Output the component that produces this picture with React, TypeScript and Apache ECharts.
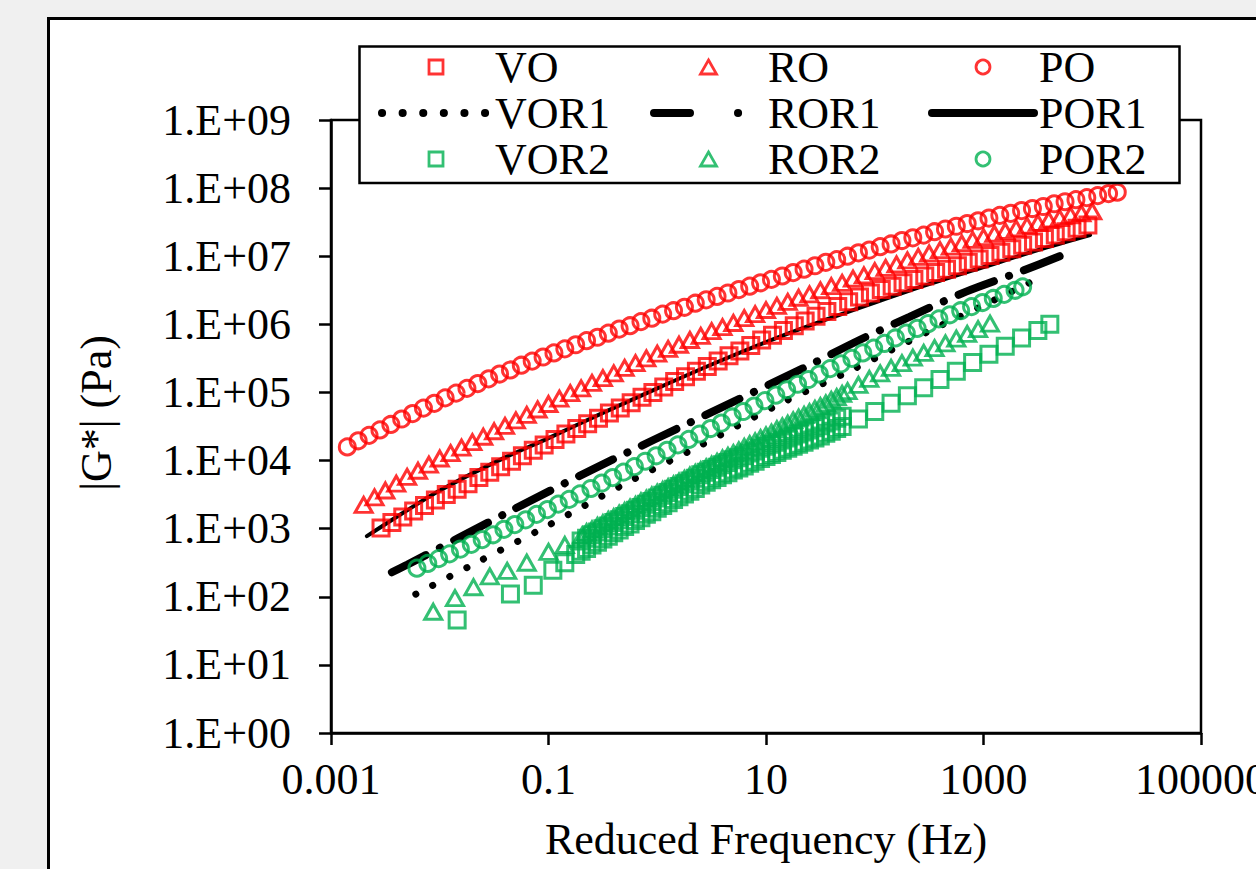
import React, { useEffect, useRef } from "react";
import * as echarts from "echarts";

// All pairs: [log10 reduced frequency (Hz), log10 |G*| (Pa)]
const X_TICK_LABELS: Record<string, string> = { "-3": "0.001", "-1": "0.1", "1": "10", "3": "1000", "5": "100000" };
const Y_TICK_LABELS = ["1.E+00", "1.E+01", "1.E+02", "1.E+03", "1.E+04", "1.E+05", "1.E+06", "1.E+07", "1.E+08", "1.E+09"];
const LEGEND_COLUMNS = [["VO", "VOR1", "VOR2"], ["RO", "ROR1", "ROR2"], ["PO", "POR1", "POR2"]];
const LINE_NAMES = ["VOR1", "ROR1", "POR1"];

const VO = [[-2.54,3.01],[-2.44,3.09],[-2.34,3.17],[-2.24,3.26],[-2.14,3.34],[-2.04,3.42],[-1.94,3.50],[-1.84,3.58],[-1.74,3.66],[-1.64,3.75],[-1.54,3.83],[-1.44,3.91],[-1.34,3.99],[-1.24,4.07],[-1.14,4.15],[-1.04,4.23],[-0.94,4.31],[-0.84,4.39],[-0.74,4.47],[-0.64,4.54],[-0.54,4.62],[-0.44,4.70],[-0.34,4.77],[-0.24,4.85],[-0.14,4.93],[-0.04,5.00],[0.06,5.08],[0.16,5.16],[0.26,5.23],[0.36,5.31],[0.46,5.38],[0.56,5.46],[0.66,5.54],[0.76,5.61],[0.86,5.69],[0.96,5.77],[1.06,5.84],[1.16,5.91],[1.26,5.98],[1.36,6.05],[1.46,6.12],[1.56,6.19],[1.66,6.26],[1.76,6.33],[1.86,6.40],[1.96,6.46],[2.06,6.51],[2.16,6.56],[2.26,6.61],[2.36,6.66],[2.46,6.71],[2.56,6.76],[2.66,6.81],[2.76,6.86],[2.86,6.91],[2.96,6.96],[3.06,7.01],[3.16,7.06],[3.26,7.11],[3.36,7.16],[3.46,7.21],[3.56,7.26],[3.66,7.31],[3.76,7.36],[3.86,7.41],[3.96,7.46]];

const RO = [[-2.70,3.35],[-2.60,3.46],[-2.50,3.56],[-2.40,3.66],[-2.30,3.76],[-2.20,3.85],[-2.10,3.94],[-2.00,4.03],[-1.90,4.11],[-1.80,4.19],[-1.70,4.27],[-1.60,4.35],[-1.50,4.43],[-1.40,4.51],[-1.30,4.59],[-1.20,4.67],[-1.10,4.75],[-1.00,4.83],[-0.90,4.91],[-0.80,4.99],[-0.70,5.06],[-0.60,5.14],[-0.50,5.21],[-0.40,5.28],[-0.30,5.36],[-0.20,5.43],[-0.10,5.50],[0.00,5.57],[0.10,5.64],[0.20,5.70],[0.30,5.77],[0.40,5.83],[0.50,5.90],[0.60,5.96],[0.70,6.02],[0.80,6.09],[0.90,6.15],[1.00,6.21],[1.10,6.27],[1.20,6.33],[1.30,6.39],[1.40,6.44],[1.50,6.50],[1.60,6.56],[1.70,6.61],[1.80,6.67],[1.90,6.72],[2.00,6.78],[2.10,6.83],[2.20,6.88],[2.30,6.94],[2.40,6.99],[2.50,7.04],[2.60,7.09],[2.70,7.14],[2.80,7.19],[2.90,7.24],[3.00,7.28],[3.10,7.33],[3.20,7.37],[3.30,7.41],[3.40,7.45],[3.50,7.49],[3.60,7.53],[3.70,7.56],[3.80,7.60],[3.90,7.63],[4.00,7.66]];

const PO = [[-2.85,4.20],[-2.75,4.29],[-2.65,4.37],[-2.55,4.45],[-2.45,4.53],[-2.35,4.61],[-2.25,4.69],[-2.15,4.77],[-2.05,4.84],[-1.95,4.92],[-1.85,4.99],[-1.75,5.06],[-1.65,5.13],[-1.55,5.20],[-1.45,5.27],[-1.35,5.33],[-1.25,5.40],[-1.15,5.46],[-1.05,5.52],[-0.95,5.58],[-0.85,5.64],[-0.75,5.70],[-0.65,5.76],[-0.55,5.81],[-0.45,5.87],[-0.35,5.93],[-0.25,5.98],[-0.15,6.04],[-0.05,6.09],[0.05,6.15],[0.15,6.20],[0.25,6.25],[0.35,6.31],[0.45,6.36],[0.55,6.41],[0.65,6.46],[0.75,6.51],[0.85,6.56],[0.95,6.61],[1.05,6.66],[1.15,6.71],[1.25,6.76],[1.35,6.81],[1.45,6.86],[1.55,6.91],[1.65,6.95],[1.75,7.00],[1.85,7.05],[1.95,7.09],[2.05,7.14],[2.15,7.18],[2.25,7.23],[2.35,7.27],[2.45,7.31],[2.55,7.36],[2.65,7.40],[2.75,7.44],[2.85,7.48],[2.95,7.52],[3.05,7.56],[3.15,7.60],[3.25,7.63],[3.35,7.67],[3.45,7.70],[3.55,7.73],[3.65,7.77],[3.75,7.80],[3.85,7.83],[3.95,7.86],[4.05,7.89],[4.15,7.92],[4.23,7.94]];

const VOR1 = [[-2.22,2.04],[-1.70,2.47],[-1.00,3.05],[-0.32,3.64],[0.37,4.20],[1.15,4.85],[1.75,5.30],[2.50,5.90],[3.00,6.28],[3.55,6.71]];
const ROR1 = [[-2.44,2.36],[-2.30,2.47],[-1.35,3.26],[-0.57,3.89],[0.50,4.71],[1.36,5.37],[1.86,5.77],[2.32,6.11],[2.84,6.48],[3.35,6.78],[3.73,7.02]];
const POR1 = [[-2.67,2.89],[-2.30,3.27],[-2.00,3.56],[-1.50,3.97],[-1.00,4.33],[-0.50,4.70],[0.00,5.06],[0.50,5.41],[1.00,5.74],[1.50,6.04],[2.00,6.32],[2.50,6.59],[3.00,6.84],[3.50,7.09],[3.98,7.31]];

const VOR2 = [
  [-1.84,1.66],[-1.35,2.04],[-1.14,2.17],[-0.96,2.39],[-0.85,2.50],[-0.75,2.62],
  [-0.70,2.67],[-0.65,2.71],[-0.60,2.76],[-0.55,2.80],[-0.50,2.85],[-0.45,2.89],[-0.40,2.94],[-0.35,2.98],[-0.30,3.03],[-0.25,3.07],[-0.20,3.12],[-0.15,3.16],[-0.10,3.21],[-0.05,3.25],[0.00,3.30],[0.05,3.34],[0.10,3.38],[0.15,3.43],[0.20,3.47],[0.25,3.51],[0.30,3.55],[0.35,3.59],[0.40,3.64],[0.45,3.68],[0.50,3.72],[0.55,3.75],[0.60,3.79],[0.65,3.82],[0.70,3.86],[0.75,3.89],[0.80,3.92],[0.85,3.96],[0.90,3.99],[0.95,4.03],[1.00,4.06],[1.05,4.09],[1.10,4.12],[1.15,4.15],[1.20,4.18],[1.25,4.21],[1.30,4.24],[1.35,4.27],[1.40,4.30],[1.45,4.33],[1.50,4.36],[1.55,4.40],[1.60,4.43],[1.65,4.47],[1.70,4.50],
  [1.85,4.61],[2.00,4.72],[2.15,4.84],[2.30,4.95],[2.45,5.07],[2.60,5.19],[2.75,5.31],[2.90,5.44],[3.05,5.56],[3.20,5.68],[3.35,5.80],[3.50,5.91],[3.61,6.00],
  [-0.70,2.82],[-0.65,2.86],[-0.60,2.91],[-0.55,2.95],[-0.50,3.00],[-0.45,3.04],[-0.40,3.09],[-0.35,3.13],[-0.30,3.18],[-0.25,3.22],[-0.20,3.27],[-0.15,3.31],[-0.10,3.36],[-0.05,3.40],[0.00,3.45],[0.05,3.49],[0.10,3.53],[0.15,3.58],[0.20,3.62],[0.25,3.66],[0.30,3.70],[0.35,3.74],[0.40,3.79],[0.45,3.83],[0.50,3.87],[0.55,3.90],[0.60,3.94],[0.65,3.97],[0.70,4.01],[0.75,4.04],[0.80,4.07],[0.85,4.11],[0.90,4.14],[0.95,4.18],[1.00,4.21],[1.05,4.24],[1.10,4.27],[1.15,4.30],[1.20,4.33],[1.25,4.36],[1.30,4.39],[1.35,4.42],[1.40,4.45],[1.45,4.48],[1.50,4.51],[1.55,4.55],[1.60,4.58],[1.65,4.62],[1.70,4.65]
];

const ROR2 = [
  [-2.06,1.78],[-1.86,1.98],[-1.69,2.14],[-1.54,2.30],[-1.38,2.38],[-1.20,2.50],[-1.00,2.66],[-0.85,2.76],[-0.69,2.90],
  [-0.65,2.95],[-0.60,2.99],[-0.55,3.04],[-0.50,3.08],[-0.45,3.13],[-0.40,3.17],[-0.35,3.22],[-0.30,3.26],[-0.25,3.31],[-0.20,3.35],[-0.15,3.40],[-0.10,3.44],[-0.05,3.49],[0.00,3.53],[0.05,3.57],[0.10,3.61],[0.15,3.65],[0.20,3.69],[0.25,3.73],[0.30,3.78],[0.35,3.82],[0.40,3.86],[0.45,3.90],[0.50,3.94],[0.55,3.98],[0.60,4.03],[0.65,4.07],[0.70,4.11],[0.75,4.15],[0.80,4.20],[0.85,4.24],[0.90,4.28],[0.95,4.33],[1.00,4.37],[1.05,4.41],[1.10,4.46],[1.15,4.50],[1.20,4.54],[1.25,4.59],[1.30,4.63],[1.35,4.67],[1.40,4.71],[1.45,4.76],[1.50,4.80],[1.55,4.84],[1.60,4.89],[1.65,4.93],[1.70,4.98],[1.75,5.02],
  [1.85,5.11],[1.95,5.20],[2.05,5.28],[2.15,5.36],[2.25,5.43],[2.35,5.51],[2.45,5.58],[2.55,5.65],[2.65,5.72],[2.75,5.79],[2.85,5.86],[2.95,5.93],[3.06,6.01]
];

const POR2 = [[-2.21,2.42],[-2.11,2.49],[-2.01,2.56],[-1.91,2.63],[-1.81,2.70],[-1.71,2.77],[-1.61,2.84],[-1.51,2.91],[-1.41,2.99],[-1.31,3.06],[-1.21,3.13],[-1.11,3.21],[-1.01,3.28],[-0.91,3.36],[-0.81,3.43],[-0.71,3.51],[-0.61,3.59],[-0.51,3.67],[-0.41,3.75],[-0.31,3.83],[-0.21,3.91],[-0.11,3.99],[-0.01,4.07],[0.09,4.15],[0.19,4.23],[0.29,4.31],[0.39,4.39],[0.49,4.47],[0.59,4.55],[0.69,4.64],[0.79,4.72],[0.89,4.80],[0.99,4.88],[1.09,4.96],[1.19,5.04],[1.29,5.12],[1.39,5.19],[1.49,5.27],[1.59,5.35],[1.69,5.42],[1.79,5.50],[1.89,5.58],[1.99,5.65],[2.09,5.72],[2.19,5.80],[2.29,5.87],[2.39,5.94],[2.49,6.01],[2.59,6.08],[2.69,6.14],[2.79,6.20],[2.89,6.26],[2.99,6.32],[3.09,6.38],[3.19,6.44],[3.29,6.50],[3.36,6.55]];

const FONT = "'Liberation Serif', 'Times New Roman', serif";
const RED = "#ff0000";
const GREEN = "#00b050";
const SQUARE = "path://M0,0L16,0L16,16L0,16Z";
const TRIANGLE = "path://M8,0L16,14L0,14Z";

function scatter(name: string, data: number[][], symbol: string, color: string, size: number | number[]) {
  return {
    name,
    type: "scatter",
    data,
    symbol,
    symbolSize: size,
    itemStyle: { color: "rgba(255,255,255,0)", borderColor: color, borderWidth: 3 },
    emphasis: { disabled: true },
    silent: true,
    z: 2,
  };
}

function line(name: string, data: number[][], width: number, type: any) {
  return {
    name,
    type: "line",
    data,
    symbol: "none",
    smooth: 0.3,
    lineStyle: { color: "#000", width, type, cap: "round" },
    itemStyle: { color: "#000" },
    emphasis: { disabled: true },
    silent: true,
    z: 2,
  };
}

function legendCol(names: string[], left: number, itemWidth: number, lineStyle: any) {
  return {
    data: names.map((n) =>
      LINE_NAMES.includes(n)
        ? { name: n, itemStyle: { color: "rgba(0,0,0,0)", borderColor: "rgba(0,0,0,0)", borderWidth: 0 }, lineStyle }
        : { name: n }
    ),
    left,
    top: 44,
    orient: "vertical",
    itemWidth,
    itemHeight: 14,
    itemGap: 0,
    padding: 0,
    selectedMode: false,
    textStyle: { fontFamily: FONT, fontSize: 44, color: "#000", lineHeight: 46 },
    itemStyle: { borderWidth: 2.8 },
    z: 5,
  };
}

export default function App() {
  const ref = useRef<HTMLDivElement>(null);
  useEffect(() => {
    if (!ref.current) return;
    const chart = echarts.init(ref.current, null, { renderer: "svg" });
    const axisCommon = {
      type: "value",
      axisLine: { show: true, onZero: false, lineStyle: { color: "#000", width: 2.5 } },
      axisTick: { show: true, length: 12, lineStyle: { color: "#000", width: 2.5 } },
      splitLine: { show: false },
      minorTick: { show: false },
    };
    chart.setOption({
      animation: false,
      backgroundColor: "transparent",
      grid: {
        left: 331,
        top: 120,
        width: 870,
        height: 613,
        show: true,
        borderColor: "#000",
        borderWidth: 2.5,
        backgroundColor: "transparent",
        containLabel: false,
        outerBoundsMode: "none",
      },
      xAxis: {
        ...axisCommon,
        min: -3,
        max: 5,
        interval: 2,
        axisLabel: {
          margin: 24,
          fontFamily: FONT,
          fontSize: 44,
          color: "#000",
          showMinLabel: true,
          showMaxLabel: true,
          hideOverlap: false,
          formatter: (v: number) => X_TICK_LABELS[String(Math.round(v))] ?? "",
        },
      },
      yAxis: {
        ...axisCommon,
        min: 0,
        max: 9,
        interval: 1,
        axisLabel: {
          margin: 40,
          fontFamily: FONT,
          fontSize: 44,
          color: "#000",
          formatter: (v: number) => Y_TICK_LABELS[Math.round(v)] ?? "",
        },
      },
      legend: [
        legendCol(LEGEND_COLUMNS[0], 378, 108, { width: 8, type: [0.1, 20.5], cap: "round", color: "#000" }),
        legendCol(LEGEND_COLUMNS[1], 650, 109, { width: 8, type: [36, 48, 0.1, 100], cap: "round", color: "#000" }),
        legendCol(LEGEND_COLUMNS[2], 928, 102, { width: 8, type: "solid", cap: "round", color: "#000" }),
      ],
      graphic: [
        {
          type: "rect",
          z: 3,
          shape: { x: 359.5, y: 46.5, width: 820, height: 136.5 },
          style: { fill: "#fff", stroke: "#000", lineWidth: 2.5 },
        },
        {
          type: "text",
          x: 96,
          y: 413,
          rotation: Math.PI / 2,
          style: { text: "|G*| (Pa)", font: `44px ${FONT}`, fill: "#000", align: "center", verticalAlign: "middle" },
        },
        {
          type: "text",
          x: 766,
          y: 839,
          style: { text: "Reduced Frequency (Hz)", font: `44px ${FONT}`, fill: "#000", align: "center", verticalAlign: "middle" },
        },
      ],
      series: [
        scatter("VO", VO, SQUARE, RED, 16),
        scatter("RO", RO, TRIANGLE, RED, [17, 15]),
        scatter("PO", PO, "circle", RED, 16),
        line("VOR1", VOR1, 7, [0.1, 19]),
        line("ROR1", ROR1, 8, [38, 16, 0.1, 16]),
        line("POR1", POR1, 4, "solid"),
        scatter("VOR2", VOR2, SQUARE, GREEN, 16),
        scatter("ROR2", ROR2, TRIANGLE, GREEN, [17, 15]),
        scatter("POR2", POR2, "circle", GREEN, 16),
      ],
    });
    return () => chart.dispose();
  }, []);

  return (
    <div style={{ position: "fixed", left: 0, top: 0, width: 1256, height: 869, background: "#f0f0f0", overflow: "hidden" }}>
      <div
        style={{
          position: "absolute",
          left: 47,
          top: 17,
          width: 1400,
          height: 1000,
          background: "#fff",
          border: "3px solid #000",
          boxSizing: "border-box",
        }}
      />
      <div ref={ref} style={{ position: "absolute", left: 0, top: 0, width: 1256, height: 869 }} />
    </div>
  );
}
